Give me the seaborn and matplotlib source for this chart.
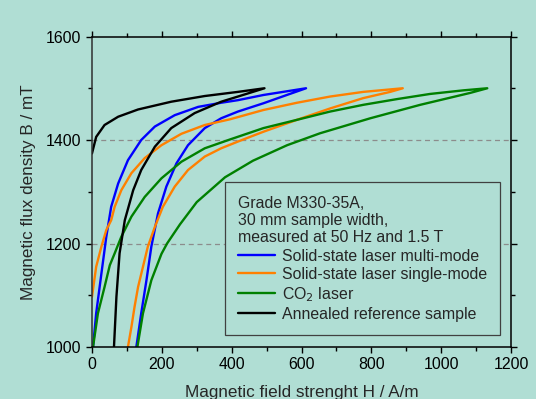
import pandas as pd
import seaborn as sns
import matplotlib
matplotlib.use('Agg')
import matplotlib.pyplot as plt

# hysteresis loops (H in A/m, B in mT)
# each loop: rising branch up to the tip, then the other branch back down

# solid-state laser, multi-mode
multi_H = [127, 141, 156, 170, 189, 213, 242, 275, 323, 370, 418, 491, 558, 613,
           491, 418, 370, 304, 237, 180, 141, 103, 75, 55, 41, 27, 12, 3]
multi_B = [1000, 1065, 1129, 1194, 1258, 1310, 1355, 1390, 1423, 1442, 1455, 1471, 1487, 1500,
           1487, 1477, 1472, 1464, 1448, 1426, 1400, 1361, 1316, 1271, 1213, 1142, 1065, 1000]

# solid-state laser, single-mode
single_H = [103, 113, 122, 132, 146, 160, 180, 203, 237, 275, 323, 370, 418, 491, 587, 682, 777, 854, 890,
            777, 682, 587, 491, 395, 323, 256, 199, 151, 113, 84, 65, 55, 41, 27, 12, 0]
single_B = [1000, 1039, 1078, 1116, 1155, 1194, 1232, 1271, 1310, 1342, 1368, 1384, 1397, 1416, 1439, 1461, 1481, 1493, 1500,
            1493, 1484, 1472, 1458, 1440, 1429, 1412, 1390, 1365, 1336, 1303, 1271, 1245, 1226, 1194, 1155, 1097]

# CO2 laser
co2_H = [130, 146, 170, 199, 215, 252, 300, 381, 461, 559, 653, 797, 940, 1083, 1132,
         1064, 968, 873, 777, 682, 587, 491, 395, 323, 256, 199, 151, 113, 84, 65, 51, 36, 17, 3]
co2_B = [1000, 1065, 1129, 1180, 1200, 1237, 1280, 1328, 1360, 1390, 1413, 1442, 1468, 1491, 1500,
         1496, 1489, 1479, 1468, 1455, 1439, 1423, 1401, 1384, 1358, 1326, 1290, 1252, 1213, 1181, 1158, 1116, 1065, 1000]

# annealed reference sample
annealed_H = [63, 70, 79, 94, 118, 141, 180, 227, 294, 370, 418, 494,
              418, 323, 227, 132, 75, 36, 12, 0]
annealed_B = [1000, 1097, 1181, 1245, 1303, 1342, 1387, 1423, 1452, 1474, 1484, 1500,
              1493, 1485, 1474, 1459, 1445, 1429, 1406, 1374]

series = ['Solid-state laser multi-mode', 'Solid-state laser single-mode',
          'CO$_2$ laser', 'Annealed reference sample']
colors = ['#0000ff', '#ff8000', '#008000', '#000000']

legend_title = 'Grade M330-35A,\n30 mm sample width,\nmeasured at 50 Hz and 1.5 T'

parts = []
for name, h, b in zip(series, [multi_H, single_H, co2_H, annealed_H],
                      [multi_B, single_B, co2_B, annealed_B]):
    parts.append(pd.DataFrame({'H': h, 'B': b, 'series': name}))
df = pd.concat(parts, ignore_index=True)

bg = '#b0ded4'
sns.set_style('ticks')
plt.rcParams['font.family'] = ['Liberation Sans', 'DejaVu Sans']
plt.rcParams['font.size'] = 11.4

fig = plt.figure(figsize=(5.36, 3.99), dpi=100, facecolor=bg)
ax = fig.add_axes([0.1716, 0.1303, 0.7818, 0.7782])
ax.set_facecolor(bg)

sns.lineplot(data=df, x='H', y='B', hue='series', hue_order=series,
             palette=colors, sort=False, estimator=None, linewidth=1.7, ax=ax)

ax.set_xlim(0, 1200)
ax.set_ylim(1000, 1600)
ax.set_xticks(range(0, 1201, 200))
ax.set_xticks(range(0, 1201, 100), minor=True)
ax.set_yticks([1000, 1200, 1400, 1600])
ax.set_yticks(range(1000, 1601, 100), minor=True)
ax.tick_params(which='both', direction='out', top=True, right=True,
               color='black', labelsize=11.4, labelcolor='black', pad=3)
ax.tick_params(which='major', length=4.5, width=1)
ax.tick_params(which='minor', length=3, width=1)
for s in ax.spines.values():
    s.set_visible(True)
    s.set_color('black')
    s.set_linewidth(1.1)
ax.spines['left'].set_color('#303030')

for y in [1200, 1400]:
    ax.axhline(y, color='#8c8c8c', linestyle=(0, (4, 3)), linewidth=0.9, zorder=0)

ax.set_xlabel('Magnetic field strenght H / A/m', fontsize=12.3, labelpad=9)
ax.set_ylabel('Magnetic flux density B / mT', fontsize=12.3, labelpad=7)

handles, labels = ax.get_legend_handles_labels()
for hd in handles:
    hd.set_linewidth(1.7)
leg = ax.legend(handles, labels, title=legend_title, loc='upper left',
                bbox_to_anchor=(0.317, 0.531), borderaxespad=0,
                fancybox=False, framealpha=1, facecolor=bg, edgecolor='#404040',
                fontsize=11.4, title_fontsize=11.4, handlelength=2.3,
                handletextpad=0.45, labelspacing=0.2, borderpad=0.85)
leg._legend_box.align = 'left'
leg.get_frame().set_linewidth(0.9)

fig.savefig('out.png', dpi=100, facecolor=bg)
